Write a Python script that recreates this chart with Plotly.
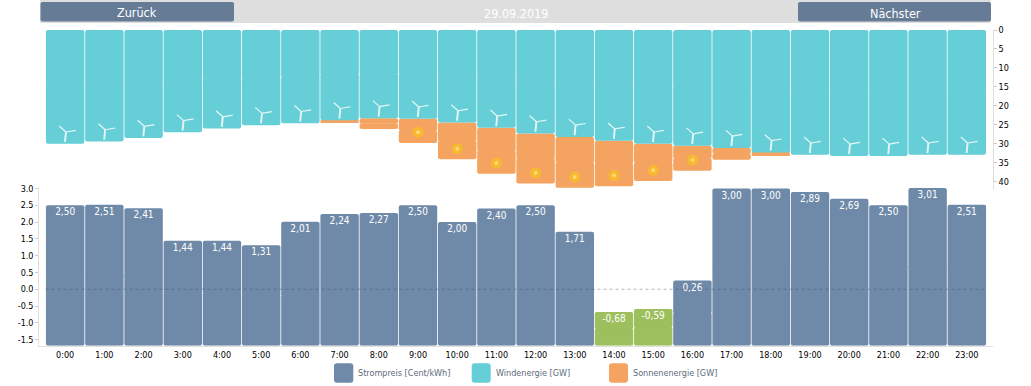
import plotly.graph_objects as go

hours = [f"{h}:00" for h in range(24)]
price = [2.50, 2.51, 2.41, 1.44, 1.44, 1.31, 2.01, 2.24, 2.27, 2.50, 2.00, 2.40,
         2.50, 1.71, -0.68, -0.59, 0.26, 3.00, 3.00, 2.89, 2.69, 2.50, 3.01, 2.51]
wind = [30.0, 29.4, 28.5, 27.0, 26.0, 25.1, 24.6, 23.8, 23.3, 23.4, 24.4, 25.8,
        27.3, 28.2, 29.2, 30.0, 30.5, 31.1, 32.3, 32.9, 33.2, 33.2, 32.9, 32.9]
sun = [0, 0, 0, 0, 0, 0, 0, 0.6, 2.8, 6.4, 9.7, 12.1,
       13.2, 13.4, 12.0, 9.8, 6.6, 3.1, 0.7, 0, 0, 0, 0, 0]
price_ticks = [3.0, 2.5, 2.0, 1.5, 1.0, 0.5, 0.0, -0.5, -1.0, -1.5]
energy_ticks = [0, 5, 10, 15, 20, 25, 30, 35, 40]

FONT = "DejaVu Sans Condensed, DejaVu Sans, sans-serif"
BLUE, TEAL, ORANGE, GREEN = "#6f8aa8", "#66ced6", "#f4a460", "#9dbf5d"
BTN = "#667b96"
BLADE = "#e4f7f8"
W, H = 1031, 386
PRICE_MIN = -1.68
PX_PER_HOUR, PX_PER_GW = 39.2, 3.79
x = list(range(24))


def px(p):
    return p / W


def py(p):
    return 1 - p / H


def fnt(size, color, family=FONT):
    return dict(family=family, size=size, color=color)


fig = go.Figure()


def rounded(lo, hi, colors, xa, ya):
    """Bar from lo to hi, rounded at both ends (two barely overlapping halves)."""
    span = [h - l for l, h in zip(lo, hi)]
    fig.add_bar(x=x, base=lo, y=[s * 0.51 for s in span], marker=dict(color=colors, line_width=0, cornerradius=2.5),
                width=0.98, xaxis=xa, yaxis=ya, hoverinfo="skip")
    fig.add_bar(x=x, base=hi, y=[-s * 0.51 for s in span], marker=dict(color=colors, line_width=0, cornerradius=2.5),
                width=0.98, xaxis=xa, yaxis=ya, hoverinfo="skip")


# lower chart: price
rounded([PRICE_MIN] * 24, price, [GREEN if p < 0 else BLUE for p in price], "x", "y")
fig.add_trace(go.Scatter(
    x=x, y=[p - 0.08 for p in price], mode="text", text=[f"{p:.2f}".replace(".", ",") for p in price],
    textposition="bottom center", textfont=fnt(10, "white"),
    xaxis="x", yaxis="y", hoverinfo="skip"))

# upper chart: wind + sun
total = [w + s for w, s in zip(wind, sun)]
rounded(wind, total, ORANGE, "x2", "y2")
rounded([0] * 24, wind, TEAL, "x2", "y2")

# sun glyphs
sx = [i for i, s in zip(x, sun) if s > 5]
sy = [t - 2.8 for t, s in zip(total, sun) if s > 5]
fig.add_trace(go.Scatter(x=sx, y=sy, mode="markers", xaxis="x2", yaxis="y2", hoverinfo="skip",
                         marker=dict(symbol="circle", size=11, color="#f8b830", line_width=0)))
fig.add_trace(go.Scatter(x=sx, y=sy, mode="markers", xaxis="x2", yaxis="y2", hoverinfo="skip",
                         marker=dict(symbol="circle", size=4, color="#fbd977", line_width=0)))


# turbine glyphs: strokes from the hub, which sits just above the end of each wind bar
def turbine_segments(tips):
    xs, ys = [], []
    for i, w in zip(x, wind):
        hub_x, hub_y = i + 0.02, w - 3.1
        for dx, dy in tips:
            xs += [hub_x, hub_x + dx / PX_PER_HOUR, None]
            ys += [hub_y, hub_y + dy / PX_PER_GW, None]
    return xs, ys


for tips, width in (([(-6.7, -6), (10, -1.7)], 1.2), ([(-1, 10)], 1.9)):
    xs, ys = turbine_segments(tips)
    fig.add_trace(go.Scatter(x=xs, y=ys, mode="lines", xaxis="x2", yaxis="y2", hoverinfo="skip",
                             line=dict(color=BLADE, width=width)))

axis_x = [-0.66, 23.66]
shapes = [
    dict(type="line", xref="x", yref="y", x0=-0.5, x1=23.5, y0=0, y1=0, layer="above",
         line=dict(color="rgba(55,75,105,0.4)", width=1, dash="3px,3px")),
    dict(type="rect", xref="paper", yref="paper", x0=px(40), x1=px(990.5), y0=py(23), y1=py(0),
         fillcolor="#dedede", line_width=0, layer="below"),
]


def round_rect(x0, x1, y0, y1, r, color):
    a, b, c, d = px(x0), px(x1), py(y0), py(y1)
    rx, ry = px(r), r / H
    return dict(type="path", xref="paper", yref="paper", fillcolor=color, line_width=0, layer="below",
                path=f"M{a+rx},{c} L{b-rx},{c} Q{b},{c} {b},{c-ry} L{b},{d+ry} Q{b},{d} {b-rx},{d} "
                     f"L{a+rx},{d} Q{a},{d} {a},{d+ry} L{a},{c-ry} Q{a},{c} {a+rx},{c} Z")


shapes += [round_rect(40.5, 234, 2, 21.5, 2, BTN), round_rect(798, 991, 2, 21.5, 2, BTN)]
shapes += [round_rect(334, 353.3, 363.3, 382.7, 3, BLUE),
           round_rect(471.7, 490.7, 363.3, 382.7, 3, TEAL),
           round_rect(609, 628, 363.3, 382.7, 3, ORANGE)]


def label(text, xp, yp, size, color, anchor="center"):
    return dict(text=text, x=px(xp), y=py(yp), xref="paper", yref="paper", showarrow=False,
                xanchor=anchor, yanchor="middle", font=fnt(size, color))


annotations = [
    label("Zurück", 137, 12.5, 12.5, "white"),
    label("29.09.2019", 515.5, 13, 12.5, "white"),
    label("Nächster", 895, 13, 12.5, "white"),
    label("Strompreis [Cent/kWh]", 356, 373, 9, "#5c6b7a", "left"),
    label("Windenergie [GW]", 494, 373, 9, "#5c6b7a", "left"),
    label("Sonnenenergie [GW]", 631, 373, 9, "#5c6b7a", "left"),
]

TICK = fnt(9, "black")
fig.update_layout(
    template="none",
    width=W, height=H, margin=dict(l=0, r=0, t=0, b=0, pad=0), showlegend=False, barmode="overlay",
    paper_bgcolor="white", plot_bgcolor="rgba(0,0,0,0)", shapes=shapes, annotations=annotations,
    font=fnt(10, "black"),
    xaxis=dict(domain=[px(39.3), px(992.7)], range=axis_x, anchor="y", tickmode="array", tickvals=x, ticktext=hours,
               showgrid=False, zeroline=False, showline=True, linecolor="#e0e0e0", ticks="", automargin=False,
               tickangle=0, tickfont=TICK),
    yaxis=dict(domain=[py(345.7), py(186.7)], range=[PRICE_MIN, 3.05], anchor="x", tickmode="array",
               tickvals=price_ticks, ticktext=[f"{t:.1f}" for t in price_ticks],
               showgrid=False, zeroline=False, showline=True, linecolor="#e0e0e0", automargin=False,
               ticks="outside", ticklen=3, tickcolor="#cccccc", tickfont=TICK),
    xaxis2=dict(domain=[px(39.3), px(992.7)], range=axis_x, anchor="y2", visible=False, automargin=False),
    yaxis2=dict(domain=[py(190), py(30)], range=[42.2, 0], anchor="x2", side="right", tickmode="array",
                tickvals=energy_ticks, ticktext=[str(t) for t in energy_ticks],
                showgrid=False, zeroline=False, showline=True, linecolor="#e0e0e0", automargin=False,
                ticks="outside", ticklen=3, tickcolor="#cccccc", tickfont=TICK),
)

fig.write_html("out.html", config={"displayModeBar": False},
               post_script="document.body.style.margin='0';document.body.style.overflow='hidden';")
